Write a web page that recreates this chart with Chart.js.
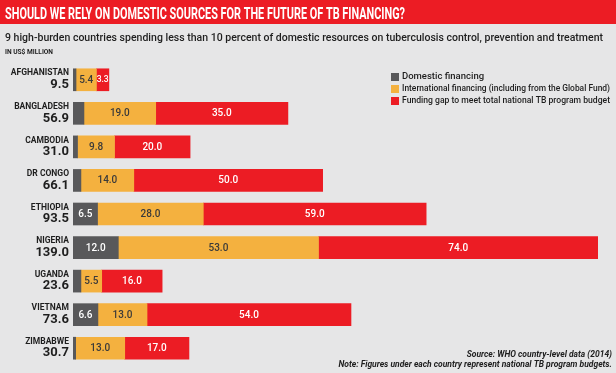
<!DOCTYPE html>
<html>
<head>
<meta charset="utf-8">
<script src="https://cdn.jsdelivr.net/npm/chart.js@4"></script>
<style>
  html, body { margin: 0; padding: 0; background: #e6e6e7; }
  #wrap { width: 616px; height: 373px; position: relative; }
</style>
</head>
<body>
<div id="wrap"><canvas id="chart" width="616" height="373"></canvas></div>
<script>
const countries = ['AFGHANISTAN', 'BANGLADESH', 'CAMBODIA', 'DR CONGO', 'ETHIOPIA', 'NIGERIA', 'UGANDA', 'VIETNAM', 'ZIMBABWE'];
const budgets = [9.5, 56.9, 31.0, 66.1, 93.5, 139.0, 23.6, 73.6, 30.7];
const domestic = [0.8, 2.9, 1.2, 2.1, 6.5, 12.0, 2.1, 6.6, 0.7];
const international = [5.4, 19.0, 9.8, 14.0, 28.0, 53.0, 5.5, 13.0, 13.0];
const gap = [3.3, 35.0, 20.0, 50.0, 59.0, 74.0, 16.0, 54.0, 17.0];

const seriesNames = [
  'Domestic financing',
  'International financing (including from the Global Fund)',
  'Funding gap to meet total national TB program budget'
];
const colors = ['#58585a', '#f4b13f', '#ec1c24'];
const labelColors = ['#ffffff', '#3a3a3a', '#ffffff'];
const FONT = 'Roboto, "Liberation Sans", sans-serif';

// background, title banner, subtitle, legend and notes
const decor = {
  id: 'decor',
  beforeDraw(chart) {
    const ctx = chart.ctx;
    ctx.save();
    ctx.fillStyle = '#e6e6e7';
    ctx.fillRect(0, 0, chart.width, chart.height);
    ctx.fillStyle = '#ec1c24';
    ctx.fillRect(0, 0, chart.width, 24);

    ctx.fillStyle = '#ffffff';
    ctx.font = 'bold 17px ' + FONT;
    ctx.textBaseline = 'alphabetic';
    ctx.fillText('SHOULD WE RELY ON DOMESTIC SOURCES FOR THE FUTURE OF TB FINANCING?', 5, 19, 400);

    ctx.fillStyle = '#1e1e1e';
    ctx.font = '500 11.5px ' + FONT;
    ctx.fillText('9 high-burden countries spending less than 10 percent of domestic resources on tuberculosis control, prevention and treatment', 5, 41, 598);
    ctx.font = 'bold 7.5px ' + FONT;
    ctx.fillText('IN US$ MILLION', 5, 54, 48);

    // legend
    ctx.font = '500 9.5px ' + FONT;
    ctx.textBaseline = 'middle';
    seriesNames.forEach((name, i) => {
      const y = 77 + i * 12;
      ctx.fillStyle = colors[i];
      ctx.fillRect(391, y - 4, 8, 8);
      ctx.fillStyle = '#1e1e1e';
      ctx.fillText(name, 402, y, 208);
    });

    // notes
    ctx.textAlign = 'right';
    ctx.textBaseline = 'alphabetic';
    ctx.font = 'italic bold 8.5px ' + FONT;
    ctx.fillText('Source: WHO country-level data (2014)', 612, 357);
    ctx.fillText('Note: Figures under each country represent national TB program budgets.', 612, 367);
    ctx.restore();
  },
  afterDatasetsDraw(chart) {
    const ctx = chart.ctx;
    const yScale = chart.scales.y;
    ctx.save();
    // country names and budgets
    ctx.textAlign = 'right';
    ctx.textBaseline = 'middle';
    ctx.fillStyle = '#1e1e1e';
    countries.forEach((c, i) => {
      const y = yScale.getPixelForValue(i);
      ctx.font = 'bold 8.5px ' + FONT;
      ctx.fillText(c, 69, y - 6.5);
      ctx.font = 'bold 13px ' + FONT;
      ctx.fillText(budgets[i].toFixed(1), 69, y + 5);
    });
    // values inside segments
    ctx.textAlign = 'center';
    chart.data.datasets.forEach((ds, di) => {
      const meta = chart.getDatasetMeta(di);
      meta.data.forEach((bar, i) => {
        const v = ds.data[i];
        if (di === 0 && v < 5) return;
        const w = Math.abs(bar.x - bar.base);
        ctx.font = (w < 16 ? '500 8.5px ' : '500 10px ') + FONT;
        ctx.fillStyle = labelColors[di];
        ctx.fillText(v.toFixed(1), (bar.x + bar.base) / 2, bar.y + 0.5);
      });
    });
    ctx.restore();
  }
};

new Chart(document.getElementById('chart'), {
  type: 'bar',
  data: {
    labels: countries,
    datasets: [
      { label: seriesNames[0], data: domestic, backgroundColor: colors[0] },
      { label: seriesNames[1], data: international, backgroundColor: colors[1] },
      { label: seriesNames[2], data: gap, backgroundColor: colors[2] }
    ]
  },
  options: {
    indexAxis: 'y',
    responsive: false,
    animation: false,
    barThickness: 22,
    layout: { padding: { left: 73, right: 18, top: 63, bottom: 8 } },
    scales: {
      x: { stacked: true, display: false, min: 0, max: 139 },
      y: { stacked: true, display: false }
    },
    plugins: {
      legend: { display: false },
      tooltip: { enabled: false }
    }
  },
  plugins: [decor]
});
</script>
</body>
</html>
